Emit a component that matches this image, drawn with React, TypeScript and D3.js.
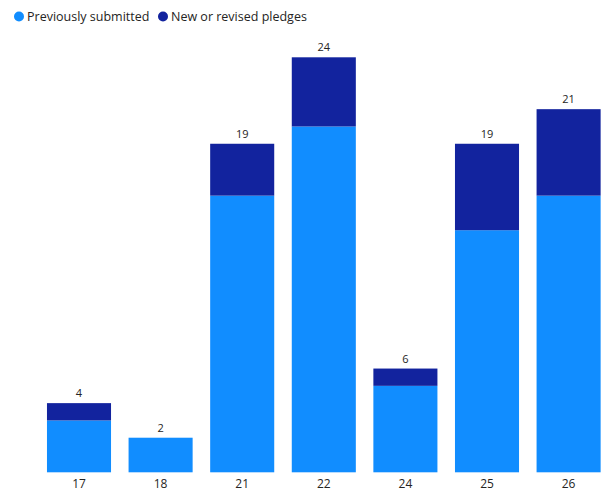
import React from "react";
import * as d3 from "d3";

const categories = ["17", "18", "21", "22", "24", "25", "26"];
const previouslySubmitted = [3, 2, 16, 20, 5, 14, 16];
const newOrRevised = [1, 0, 3, 4, 1, 5, 5];
const seriesNames = ["Previously submitted", "New or revised pledges"];
const seriesColors = ["#118DFF", "#12239E"];

const W = 602;
const H = 492;
const FONT = "'Segoe UI', 'Open Sans', 'Noto Sans', sans-serif";

export default function App() {
  const x = d3
    .scaleBand<string>()
    .domain(categories)
    .range([38.2, 609.4])
    .paddingInner(0.215)
    .paddingOuter(0.1075);
  const y = d3.scaleLinear().domain([0, 24]).range([472.3, 57.3]);

  const rows = categories.map((c, i) => ({
    cat: c,
    prev: previouslySubmitted[i],
    nw: newOrRevised[i],
  }));
  const stack = d3.stack<any>().keys(["prev", "nw"])(rows);

  return (
    <svg
      width={W}
      height={H}
      style={{ position: "absolute", left: 0, top: 0, fontFamily: FONT }}
    >
      <rect width={W} height={H} fill="#fff" />
      {/* legend */}
      <g>
        <circle cx={19} cy={16.5} r={5} fill={seriesColors[0]} />
        <text x={27} y={21} fontSize={12.5} fill="#252423">
          {seriesNames[0]}
        </text>
        <circle cx={163} cy={16.5} r={5} fill={seriesColors[1]} />
        <text x={171} y={21} fontSize={12.5} fill="#252423">
          {seriesNames[1]}
        </text>
      </g>
      {stack.map((layer, si) => (
        <g key={si} fill={seriesColors[si]}>
          {layer.map((d, i) =>
            d[1] - d[0] > 0 ? (
              <rect
                key={i}
                x={x(categories[i])}
                width={x.bandwidth()}
                y={y(d[1])}
                height={y(d[0]) - y(d[1])}
              />
            ) : null
          )}
        </g>
      ))}
      {rows.map((r, i) => (
        <text
          key={"l" + i}
          x={(x(r.cat) as number) + x.bandwidth() / 2}
          y={y(r.prev + r.nw) - 6}
          textAnchor="middle"
          fontSize={11}
          fill="#252423"
        >
          {r.prev + r.nw}
        </text>
      ))}
      {categories.map((c) => (
        <text
          key={"a" + c}
          x={(x(c) as number) + x.bandwidth() / 2}
          y={487.5}
          textAnchor="middle"
          fontSize={12}
          fill="#252423"
        >
          {c}
        </text>
      ))}
    </svg>
  );
}
